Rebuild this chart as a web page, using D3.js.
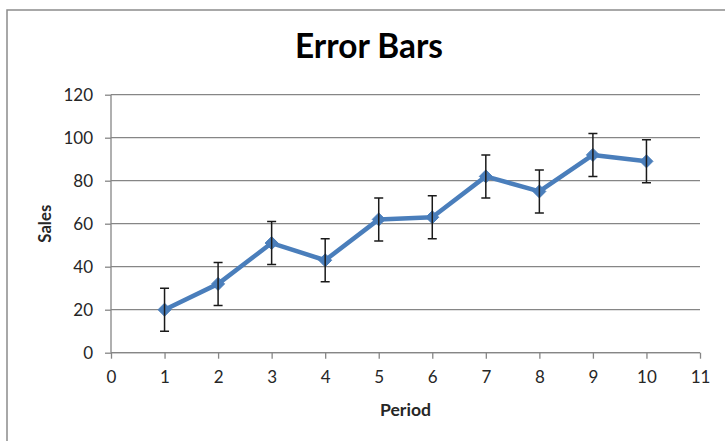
<!DOCTYPE html>
<html>
<head>
<meta charset="utf-8">
<script src="https://cdn.jsdelivr.net/npm/d3@7"></script>
<style>
  html, body { margin: 0; padding: 0; background: #fff; }
  svg { display: block; }
</style>
</head>
<body>
<script>
// ---- data ----
const periods = [1, 2, 3, 4, 5, 6, 7, 8, 9, 10];
const sales = [20, 32, 51, 43, 62, 63, 82, 75, 92, 89];
const errors = [10, 10, 10, 10, 10, 10, 10, 10, 10, 10];
const xTicks = [0, 1, 2, 3, 4, 5, 6, 7, 8, 9, 10, 11];
const yTicks = [0, 20, 40, 60, 80, 100, 120];
const title = "Error Bars";
const xTitle = "Period";
const yTitle = "Sales";

// ---- layout ----
const W = 725, H = 441;
const plot = { left: 111, right: 700, top: 94.7, bottom: 352.7 };
const gridColor = "#868686";
const lineColor = "#4a7ebb";
const textColor = "#262626";
const font = "Lato, 'Open Sans', sans-serif";

const svg = d3.select("body").append("svg").attr("width", W).attr("height", H);
svg.append("rect").attr("width", W).attr("height", H).attr("fill", "#fff");

// outer frame
svg.append("path").attr("d", `M7,${H + 5} V10 H${W + 5}`)
  .attr("fill", "none").attr("stroke", "#8c8c8c").attr("stroke-width", 1.5);

const x = d3.scaleLinear().domain([0, 11]).range([plot.left, plot.right]);
const y = d3.scaleLinear().domain([0, 120]).range([plot.bottom, plot.top]);

function fit(sel, target) {
  const n = sel.node();
  const fs = parseFloat(sel.attr("font-size"));
  const w = n.getComputedTextLength();
  if (w > 0) sel.attr("font-size", fs * target / w);
}

// title
const t = svg.append("text").attr("x", 369).attr("y", 58)
  .attr("text-anchor", "middle").attr("font-family", font).attr("font-weight", 700)
  .attr("font-size", 30).attr("fill", "#000").text(title);
fit(t, 148);

// y axis with gridlines
const yAxis = svg.append("g").attr("transform", `translate(${plot.left},0)`)
  .call(d3.axisLeft(y).tickValues(yTicks).tickSize(6).tickPadding(12).tickFormat(d3.format("d")));
yAxis.select(".domain").attr("stroke", gridColor).attr("stroke-width", 1.3).attr("d", `M-0,${plot.top}V${plot.bottom}`);
yAxis.selectAll(".tick line").attr("stroke", gridColor).attr("stroke-width", 1.3);
yAxis.selectAll(".tick text").attr("font-family", font).attr("font-size", 17).attr("fill", textColor);

svg.append("g").selectAll("line").data(yTicks).join("line")
  .attr("x1", plot.left).attr("x2", plot.right)
  .attr("y1", d => y(d)).attr("y2", d => y(d))
  .attr("stroke", gridColor).attr("stroke-width", 1.3);

// x axis
const xAxis = svg.append("g").attr("transform", `translate(0,${plot.bottom})`)
  .call(d3.axisBottom(x).tickValues(xTicks).tickSize(6).tickPadding(12).tickFormat(d3.format("d")));
xAxis.select(".domain").attr("stroke", gridColor).attr("stroke-width", 1.3).attr("d", `M${plot.left},0H${plot.right}`);
xAxis.selectAll(".tick line").attr("stroke", gridColor).attr("stroke-width", 1.3);
xAxis.selectAll(".tick text").attr("font-family", font).attr("font-size", 17).attr("fill", textColor);

// axis titles
const xt = svg.append("text").attr("x", (plot.left + plot.right) / 2).attr("y", 416)
  .attr("text-anchor", "middle").attr("font-family", font).attr("font-weight", 700)
  .attr("font-size", 16).attr("fill", textColor).text(xTitle);
fit(xt, 51);
const yt = svg.append("text")
  .attr("transform", `translate(51,${(plot.top + plot.bottom) / 2}) rotate(-90)`)
  .attr("text-anchor", "middle").attr("font-family", font).attr("font-weight", 700)
  .attr("font-size", 16).attr("fill", textColor).text(yTitle);
fit(yt, 38);

// data series
const data = periods.map((p, i) => ({ p, v: sales[i], e: errors[i] }));

svg.append("path").datum(data)
  .attr("fill", "none").attr("stroke", lineColor).attr("stroke-width", 4.5)
  .attr("stroke-linejoin", "round").attr("stroke-linecap", "round")
  .attr("d", d3.line().x(d => x(d.p)).y(d => y(d.v)));

// markers
svg.append("g").selectAll("path").data(data).join("path")
  .attr("transform", d => `translate(${x(d.p)},${y(d.v)})`)
  .attr("d", "M0,-6.5L6.5,0L0,6.5L-6.5,0Z")
  .attr("fill", lineColor).attr("stroke", lineColor).attr("stroke-width", 1);

// error bars
const eb = svg.append("g").attr("stroke", "#1a1a1a").attr("stroke-width", 1.5).attr("fill", "none");
const cap = 4.5;
eb.selectAll("path").data(data).join("path")
  .attr("d", d => {
    const cx = x(d.p), y1 = y(d.v + d.e), y0 = y(d.v - d.e);
    return `M${cx},${y1}V${y0}M${cx - cap},${y1}H${cx + cap}M${cx - cap},${y0}H${cx + cap}`;
  });
</script>
</body>
</html>
